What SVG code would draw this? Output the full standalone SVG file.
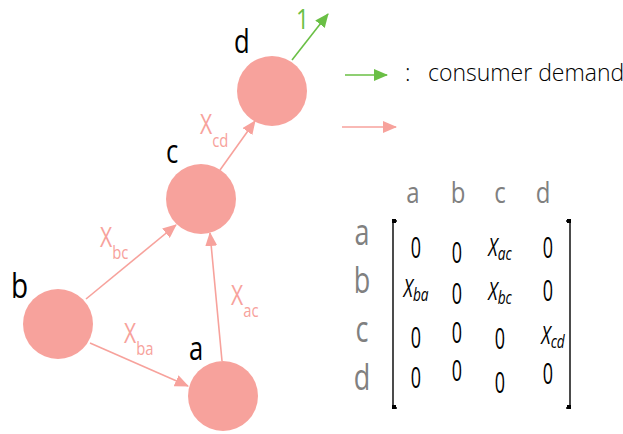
<svg xmlns="http://www.w3.org/2000/svg" width="623" height="434" viewBox="0 0 623 434">
<style>
text{font-family:"Open Sans","DejaVu Sans",sans-serif;font-weight:400}
.node{fill:#f7a29c}
.lbl{font-size:32px;fill:#000}
.elbl{font-size:27px;fill:#f7a29c}
.sub{font-size:19px}
.msub{font-size:19px}
.edge{stroke:#f7a29c;stroke-width:1.6;fill:none}
.gedge{stroke:#6abf45;stroke-width:1.6;fill:none}
.hdr{font-size:30px;fill:#808080;text-anchor:middle}
.row{font-size:36px;fill:#808080;text-anchor:middle}
.cell{font-size:29px;fill:#000;text-anchor:middle}
.x{font-size:25px;font-style:italic}
.br{stroke:#000;stroke-width:1.4;fill:none}
</style>
<defs>
<marker id="ap" markerUnits="userSpaceOnUse" markerWidth="14" markerHeight="12" refX="13" refY="6" orient="auto"><path d="M0,0 L14,6 L0,12 Z" fill="#f7a29c"/></marker>
<marker id="ag" markerUnits="userSpaceOnUse" markerWidth="14" markerHeight="12" refX="13" refY="6" orient="auto"><path d="M0,0 L14,6 L0,12 Z" fill="#6abf45"/></marker>
</defs>
<g id="connectors">
<line class="edge" x1="86" y1="299" x2="176" y2="225" marker-end="url(#ap)"/>
<line class="edge" x1="90" y1="343" x2="188" y2="386" marker-end="url(#ap)"/>
<line class="edge" x1="222" y1="361" x2="210" y2="233" marker-end="url(#ap)"/>
<line class="edge" x1="220" y1="170" x2="255" y2="121" marker-end="url(#ap)"/>
<line class="gedge" x1="292" y1="60" x2="328" y2="14" marker-end="url(#ag)"/>
<text class="elbl" transform="translate(200,134) scale(0.78,1)">X<tspan class="sub" dy="13">cd</tspan></text>
<text class="elbl" transform="translate(100,247) scale(0.78,1)">X<tspan class="sub" dy="12">bc</tspan></text>
<text class="elbl" transform="translate(124,343) scale(0.78,1)">X<tspan class="sub" dy="12">ba</tspan></text>
<text class="elbl" transform="translate(231,305) scale(0.78,1)">X<tspan class="sub" dy="12">ac</tspan></text>
<text style="font-size:27px;fill:#6abf45" transform="translate(296,29) scale(0.85,1)">1</text>
</g>
<g id="node-d"><circle class="node" cx="272" cy="91" r="35"/><text class="lbl" transform="translate(234,53) scale(0.8,1)">d</text></g>
<g id="node-c"><circle class="node" cx="201" cy="199" r="35"/><text class="lbl" transform="translate(166,163) scale(0.8,1)">c</text></g>
<g id="node-b"><circle class="node" cx="58" cy="324" r="35"/><text class="lbl" style="font-size:35px" transform="translate(11,298) scale(0.8,1)">b</text></g>
<g id="node-a"><circle class="node" cx="223" cy="396" r="35"/><text class="lbl" transform="translate(189,360) scale(0.8,1)">a</text></g>
<g id="legend">
<line class="gedge" x1="345" y1="75" x2="387" y2="75" marker-end="url(#ag)"/>
<text x="405" y="81" style="font-size:23px;fill:#000;font-weight:300">:</text>
<text x="428" y="81" style="font-size:23px;fill:#000;font-weight:300">consumer demand</text>
<line class="edge" x1="342" y1="127" x2="396" y2="127" marker-end="url(#ap)"/>
</g>
<g id="matrix">
<text class="hdr" transform="translate(413,203) scale(0.8,1)">a</text>
<text class="hdr" transform="translate(458,203) scale(0.8,1)">b</text>
<text class="hdr" transform="translate(500,203) scale(0.8,1)">c</text>
<text class="hdr" transform="translate(543,203) scale(0.8,1)">d</text>
<text class="row" transform="translate(362,245) scale(0.75,1)">a</text>
<text class="row" transform="translate(362,293) scale(0.75,1)">b</text>
<text class="row" transform="translate(362,342) scale(0.75,1)">c</text>
<text class="row" transform="translate(362,390) scale(0.75,1)">d</text>
<path class="br" d="M397,221 L393,221 L393,408 L397,408"/>
<path class="br" d="M566,221 L570,221 L570,408 L566,408"/>
<rect x="392" y="219" width="4" height="4"/><rect x="392" y="405" width="4" height="4"/>
<rect x="567" y="219" width="4" height="4"/><rect x="567" y="405" width="4" height="4"/>
<g transform="translate(416,258) scale(0.62,1)"><text class="cell">0</text></g>
<g transform="translate(457,263) scale(0.62,1)"><text class="cell">0</text></g>
<g transform="translate(500,256) scale(0.72,1)"><text class="cell x">X<tspan class="msub" dy="4">ac</tspan></text></g>
<g transform="translate(548,258) scale(0.62,1)"><text class="cell">0</text></g>
<g transform="translate(416,297) scale(0.72,1)"><text class="cell x">X<tspan class="msub" dy="4">ba</tspan></text></g>
<g transform="translate(457,304) scale(0.62,1)"><text class="cell">0</text></g>
<g transform="translate(500,300) scale(0.72,1)"><text class="cell x">X<tspan class="msub" dy="4">bc</tspan></text></g>
<g transform="translate(548,301) scale(0.62,1)"><text class="cell">0</text></g>
<g transform="translate(416,348) scale(0.62,1)"><text class="cell">0</text></g>
<g transform="translate(457,343) scale(0.62,1)"><text class="cell">0</text></g>
<g transform="translate(500,349) scale(0.62,1)"><text class="cell">0</text></g>
<g transform="translate(553,344) scale(0.72,1)"><text class="cell x">X<tspan class="msub" dy="4">cd</tspan></text></g>
<g transform="translate(416,388) scale(0.62,1)"><text class="cell">0</text></g>
<g transform="translate(457,381) scale(0.62,1)"><text class="cell">0</text></g>
<g transform="translate(500,393) scale(0.62,1)"><text class="cell">0</text></g>
<g transform="translate(548,384) scale(0.62,1)"><text class="cell">0</text></g>
</g>
</svg>
